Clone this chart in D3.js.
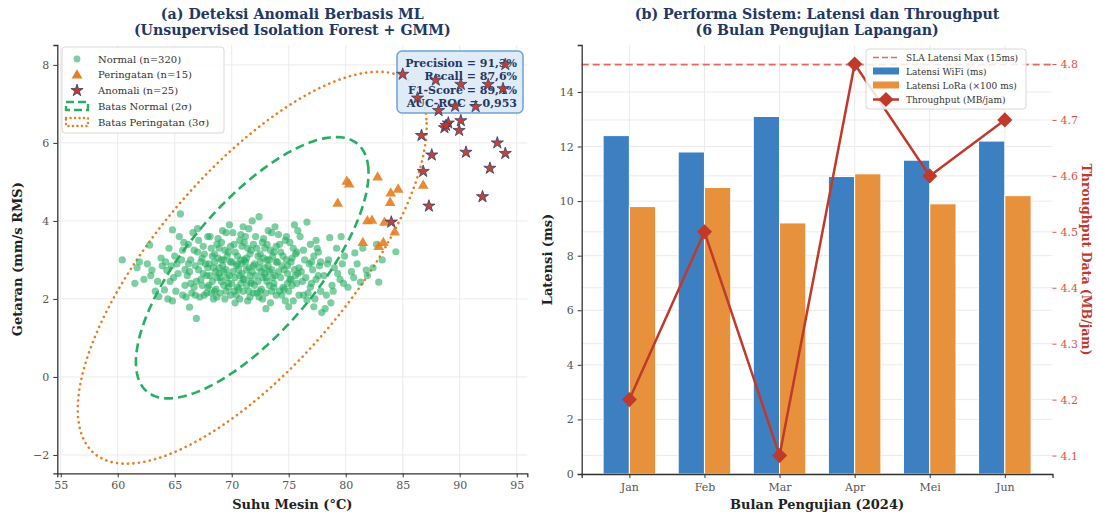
<!DOCTYPE html>
<html>
<head>
<meta charset="utf-8">
<script src="https://cdn.jsdelivr.net/npm/d3@7"></script>
<style>
  body { margin: 0; background: #fff; }
  svg { font-family: "DejaVu Serif", serif; }
</style>
</head>
<body>
<svg id="fig" width="1096" height="515"></svg>
<script>
// ---------- panel (a) data ----------
var normalPts = [
  [60.4,3.0],[61.7,2.8],[61.5,2.4],[61.9,2.95],
  [62.3,2.5],[62.8,3.38],[63.0,2.74],[63.6,2.06],[62.6,2.9],[63.3,2.2],[63.8,3.05],[62.9,2.6],[63.5,2.45],[63.9,2.85],
  [64.1,2.23],[64.3,2.74],[64.8,3.77],[65.5,4.18],[64.5,3.3],[65.2,2.9],[64.9,2.55],[65.7,2.1],[65.0,3.1],[64.4,2.0],
  [65.8,3.45],[65.3,2.65],[64.7,2.85],[65.9,2.35],[65.6,3.0],[64.2,2.95],[65.1,2.2],[65.4,3.6],[64.6,2.45],[65.9,2.75],[65.7,3.25],[64.8,1.95],
  [66.3,1.79],[66.9,1.5],[66.1,2.6],[66.4,3.0],[66.7,2.3],[66.2,3.4],[66.8,2.85],[67.0,3.2],[67.3,2.5],[67.6,2.1],
  [67.9,3.6],[66.5,2.15],[67.1,2.75],[67.4,3.05],[67.7,2.9],[66.6,3.7],[67.2,2.05],[67.5,3.35],[67.8,2.6],[66.9,2.45],
  [67.0,3.8],[67.9,2.3],[66.3,2.7],[67.6,3.15],[66.0,2.05],[67.3,2.95],[67.8,2.15],[66.7,3.25],[67.5,2.65],[66.4,2.4],
  [67.1,3.5],[67.9,2.8],[66.8,2.1],[67.4,2.35],[66.2,2.9],
  [68.1,2.6],[68.3,3.1],[68.5,2.2],[68.7,3.4],[68.9,2.8],[69.1,2.45],[69.3,3.0],[69.5,3.7],[69.7,2.3],[69.9,2.95],
  [68.2,3.3],[68.4,2.0],[68.6,2.7],[68.8,3.55],[69.0,2.15],[69.2,2.85],[69.4,3.25],[69.6,2.55],[69.8,3.9],[68.0,2.9],
  [68.3,2.45],[68.5,3.15],[68.7,2.05],[68.9,2.65],[69.1,3.45],[69.3,2.35],[69.5,2.75],[69.7,3.2],[69.9,2.1],[68.1,3.6],
  [68.4,2.8],[68.6,2.25],[68.8,3.05],[69.0,2.55],[69.2,3.75],[69.4,2.0],[69.6,3.1],[69.8,2.6],[68.2,2.15],[68.5,2.95],
  [68.9,3.3],[69.3,2.7],[69.7,2.4],[68.0,2.35],[68.7,2.55],[69.1,3.0],[69.5,2.2],[69.9,3.35],
  [70.1,2.7],[70.3,3.2],[70.5,2.3],[70.7,3.5],[70.9,2.9],[71.1,2.5],[71.3,3.05],[71.5,3.8],[71.7,2.4],[71.9,2.85],
  [70.2,3.4],[70.4,2.1],[70.6,2.75],[70.8,3.65],[71.0,2.2],[71.2,2.95],[71.4,3.3],[71.6,2.6],[71.8,4.0],[70.0,2.95],
  [70.3,2.55],[70.5,3.1],[70.7,2.0],[70.9,2.65],[71.1,3.45],[71.3,2.35],[71.5,2.8],[71.7,3.25],[71.9,2.15],[70.1,3.7],
  [70.4,2.85],[70.6,2.25],[70.8,3.0],[71.0,2.5],[71.2,3.6],[71.4,1.95],[71.6,3.15],[71.8,2.7],[70.2,2.2],[70.5,2.9],
  [70.9,3.35],[71.3,2.75],[71.7,2.45],[70.0,2.4],[70.7,2.6],[71.1,3.0],[71.5,2.2],[71.9,3.4],[70.3,1.9],[71.0,3.85],
  [71.6,2.05],[70.8,2.4],
  [72.1,2.6],[72.4,4.11],[72.3,3.1],[72.5,2.2],[72.7,3.45],[72.9,2.8],[73.1,2.45],[73.3,3.0],[73.5,3.7],[73.7,2.3],
  [73.9,2.95],[72.2,3.3],[72.4,2.05],[72.6,2.7],[72.8,3.55],[73.0,2.15],[73.2,2.85],[73.4,3.25],[73.6,2.55],[73.8,3.85],
  [72.0,2.9],[72.3,2.45],[72.5,3.15],[72.7,2.0],[72.9,2.65],[73.1,3.4],[73.3,2.35],[73.5,2.75],[73.7,3.2],[73.9,2.1],
  [72.1,3.6],[72.4,2.8],[72.6,2.25],[72.8,3.05],[73.0,2.55],[73.2,3.75],[73.4,1.9],[73.6,3.1],[73.8,2.6],[72.2,2.15],
  [72.5,2.95],[72.9,3.3],[73.3,2.7],[73.7,2.4],[72.0,2.35],[72.7,2.55],[73.1,3.0],[73.5,2.2],[73.9,3.35],[73.0,1.75],
  [74.1,2.7],[74.3,3.2],[74.5,2.3],[74.7,3.5],[74.9,2.85],[75.1,2.5],[75.3,3.05],[75.5,3.9],[75.7,2.4],[75.9,2.8],
  [74.2,3.4],[74.4,2.1],[74.6,2.75],[74.8,3.6],[75.0,2.2],[75.2,2.95],[75.4,3.3],[75.6,2.6],[75.8,3.75],[74.0,2.95],
  [74.3,2.55],[74.5,3.1],[74.7,1.95],[74.9,2.65],[75.1,3.45],[75.3,2.35],[75.5,2.75],[75.7,3.2],[75.9,2.1],[74.1,3.65],
  [74.4,2.85],[74.6,2.25],[74.8,3.0],[75.0,1.8],[75.2,2.5],[75.4,1.95],[75.6,3.15],[75.8,2.65],[74.2,2.2],[74.9,2.4],
  [76.1,2.7],[76.3,3.25],[76.6,3.97],[76.6,1.97],[76.8,2.9],[77.0,2.4],[77.2,3.1],[77.4,3.5],[77.6,2.6],[77.8,2.2],
  [76.2,2.45],[76.4,3.0],[76.7,2.15],[76.9,3.4],[77.1,2.75],[77.3,2.0],[77.5,3.3],[77.7,2.85],[77.9,1.65],[76.0,3.6],
  [76.5,2.55],[76.9,2.3],[77.2,1.8],[77.6,3.2],[77.0,2.95],[76.3,2.1],[77.4,2.5],[77.8,2.95],
  [78.1,2.6],[78.6,3.57],[78.3,2.1],[78.5,3.0],[78.8,2.35],[79.0,2.8],[79.2,3.3],[79.5,2.5],[79.7,2.9],[79.9,3.1],
  [78.2,1.75],[78.9,2.2],[79.3,2.65],[79.6,3.6],[78.4,2.9],[79.8,2.4],[78.7,1.9],
  [80.5,2.7],[80.8,3.18],[81.3,2.43],[81.8,2.74],[80.2,2.3],[81.0,2.9],[81.5,3.3],[80.7,2.55],[81.9,2.6],
  [82.9,2.43],[84.4,3.21],[82.4,2.8],[83.2,3.0],[82.7,3.4]
];
var warningPts = [
  [80.1,5.03],[80.3,4.96],[82.8,5.14],[79.3,4.47],[83.95,4.73],[84.6,4.83],[83.9,4.49],[81.9,4.02],
  [82.3,4.03],[83.4,3.98],[84.3,3.73],[81.5,3.46],[82.9,3.36],[83.3,3.46],[86.8,4.93]
];
var anomalyPts = [
  [94.0,8.01],[85.0,7.76],[87.9,7.61],[90.1,7.5],[92.5,7.5],[93.8,7.39],[86.3,7.15],[88.15,6.83],
  [89.6,6.94],[91.4,6.93],[90.1,6.57],[89.0,6.51],[88.66,6.39],[88.8,6.45],[89.95,6.32],[86.65,6.19],
  [93.3,6.0],[94.0,5.73],[87.55,5.69],[90.55,5.76],[92.65,5.35],[86.8,5.27],[92.0,4.62],[87.3,4.38],[84.0,3.97]
];
var ellipseCenter = [71.8, 2.8];
var ellipseHalfAxes2s = [10.5, 2.25];   // semi axes at 2 sigma (data units)
var ellipseAngleDeg = 14;
var metricLines = ["Precision = 91,3%", "Recall = 87,6%", "F1-Score = 89,4%", "AUC-ROC = 0,953"];
var legendA = ["Normal (n=320)", "Peringatan (n=15)", "Anomali (n=25)", "Batas Normal (2σ)", "Batas Peringatan (3σ)"];
var xTicksA = [55, 60, 65, 70, 75, 80, 85, 90, 95];
var yTicksA = [-2, 0, 2, 4, 6, 8];

// ---------- panel (b) data ----------
var months = ["Jan", "Feb", "Mar", "Apr", "Mei", "Jun"];
var latWifi = [12.4, 11.8, 13.1, 10.9, 11.5, 12.2];
var latLora = [9.8, 10.5, 9.2, 11.0, 9.9, 10.2];
var throughput = [4.2, 4.5, 4.1, 4.8, 4.6, 4.7];
var slaMax = 15;
var yTicksB = [0, 2, 4, 6, 8, 10, 12, 14];
var yTicksB2 = [4.1, 4.2, 4.3, 4.4, 4.5, 4.6, 4.7, 4.8];
var legendB = ["SLA Latensi Max (15ms)", "Latensi WiFi (ms)", "Latensi LoRa (×100 ms)", "Throughput (MB/jam)"];

var C = {
  title: "#1f3864", axis: "#333", grid: "#ebebeb", tick: "#444",
  green: "#27ae60", orange: "#e67e22", red: "#c0392b", starEdge: "#34406b",
  blue: "#3d80c2", lora: "#e8913c", sla: "#e06a60"
};

var svg = d3.select("#fig");

function grid(g, xs, ys, x, y) {
  g.selectAll(".gx").data(xs).enter().append("line")
    .attr("x1", function(d) { return x(d); }).attr("x2", function(d) { return x(d); })
    .attr("y1", y.range()[0]).attr("y2", y.range()[1])
    .attr("stroke", C.grid).attr("stroke-width", 1);
  g.selectAll(".gy").data(ys).enter().append("line")
    .attr("y1", function(d) { return y(d); }).attr("y2", function(d) { return y(d); })
    .attr("x1", x.range()[0]).attr("x2", x.range()[1])
    .attr("stroke", C.grid).attr("stroke-width", 1);
}

function styleAxis(g, color, fs) {
  g.select(".domain").attr("stroke", color).attr("stroke-width", 1.3);
  g.selectAll(".tick line").attr("stroke", color).attr("stroke-width", 1);
  g.selectAll(".tick text").attr("fill", color).attr("font-size", fs || 11)
    .attr("font-family", "DejaVu Serif, serif");
}

// =================== Panel (a) ===================
var xA = d3.scaleLinear().domain([54.7, 95.93]).range([57.3, 527.3]);
var yA = d3.scaleLinear().domain([-2.47, 8.51]).range([473.3, 45]);
var pa = svg.append("g");

grid(pa, xTicksA, yTicksA, xA, yA);

// ellipses (2 sigma / 3 sigma boundaries)
function ellipsePath(k) {
  var a = ellipseHalfAxes2s[0] * k, b = ellipseHalfAxes2s[1] * k,
      th = ellipseAngleDeg * Math.PI / 180, pts = [];
  for (var i = 0; i <= 240; i++) {
    var t = i / 240 * 2 * Math.PI;
    pts.push([ellipseCenter[0] + a * Math.cos(th) * Math.cos(t) - b * Math.sin(th) * Math.sin(t),
              ellipseCenter[1] + a * Math.sin(th) * Math.cos(t) + b * Math.cos(th) * Math.sin(t)]);
  }
  return d3.line().x(function(d) { return xA(d[0]); }).y(function(d) { return yA(d[1]); })(pts);
}
pa.append("path").attr("d", ellipsePath(1.5)).attr("fill", "none")
  .attr("stroke", C.orange).attr("stroke-width", 2.6).attr("stroke-linecap", "round")
  .attr("stroke-dasharray", "0.1 5.4");
pa.append("path").attr("d", ellipsePath(1)).attr("fill", "none")
  .attr("stroke", C.green).attr("stroke-width", 2.6).attr("stroke-dasharray", "9 5");

pa.selectAll(".n").data(normalPts).enter().append("circle")
  .attr("cx", function(d) { return xA(d[0]); }).attr("cy", function(d) { return yA(d[1]); })
  .attr("r", 3.6).attr("fill", C.green).attr("fill-opacity", 0.6);

var tri = d3.symbol().type(d3.symbolTriangle).size(50);
pa.selectAll(".w").data(warningPts).enter().append("path")
  .attr("d", tri).attr("transform", function(d) { return "translate(" + xA(d[0]) + "," + (yA(d[1]) + 1) + ")"; })
  .attr("fill", C.orange).attr("fill-opacity", 0.9);

// metrics box
var bx = pa.append("g");
bx.append("rect").attr("x", 397).attr("y", 51).attr("width", 126).attr("height", 62)
  .attr("rx", 5).attr("fill", "#dbe9f6").attr("fill-opacity", 0.9)
  .attr("stroke", "#6fa3d6").attr("stroke-width", 1.5);
bx.selectAll("text").data(metricLines).enter().append("text")
  .attr("x", 517).attr("y", function(d, i) { return 67 + i * 13.4; })
  .attr("text-anchor", "end").attr("font-size", 11).attr("font-weight", "bold")
  .attr("fill", C.title).text(function(d) { return d; });

var star = d3.symbol().type(d3.symbolStar).size(46);
pa.selectAll(".s").data(anomalyPts).enter().append("path")
  .attr("d", star).attr("transform", function(d) { return "translate(" + xA(d[0]) + "," + yA(d[1]) + ")"; })
  .attr("fill", C.red).attr("fill-opacity", 0.95).attr("stroke", C.starEdge).attr("stroke-width", 0.8);

var axA = pa.append("g").attr("transform", "translate(0,473.3)")
  .call(d3.axisBottom(xA).tickValues(xTicksA).tickSize(4).tickPadding(4).tickFormat(d3.format("d")));
styleAxis(axA, C.axis);
axA.selectAll(".tick text").attr("fill", "#555");
var ayA = pa.append("g").attr("transform", "translate(57.3,0)")
  .call(d3.axisLeft(yA).tickValues(yTicksA).tickSize(4).tickPadding(4).tickFormat(d3.format("d")));
styleAxis(ayA, C.axis);
ayA.selectAll(".tick text").attr("fill", "#555");

// legend (a)
var lg = pa.append("g");
lg.append("rect").attr("x", 62).attr("y", 47).attr("width", 162).attr("height", 86).attr("rx", 3)
  .attr("fill", "#fff").attr("fill-opacity", 0.85).attr("stroke", "#d8d8d8");
lg.selectAll("text").data(legendA).enter().append("text")
  .attr("x", 98).attr("y", function(d, i) { return 62.5 + i * 15.8; })
  .attr("font-size", 10).attr("fill", "#333").text(function(d) { return d; });
lg.append("circle").attr("cx", 77).attr("cy", 59).attr("r", 3.4).attr("fill", C.green).attr("fill-opacity", 0.6);
lg.append("path").attr("d", tri).attr("transform", "translate(77,75.5)").attr("fill", C.orange);
lg.append("path").attr("d", star).attr("transform", "translate(77,90.5)")
  .attr("fill", C.red).attr("stroke", C.starEdge).attr("stroke-width", 0.8);
lg.append("rect").attr("x", 66).attr("y", 102).attr("width", 22).attr("height", 8)
  .attr("fill", "none").attr("stroke", C.green).attr("stroke-width", 2.4).attr("stroke-dasharray", "8 4");
lg.append("rect").attr("x", 66).attr("y", 118).attr("width", 22).attr("height", 8)
  .attr("fill", "none").attr("stroke", C.orange).attr("stroke-width", 2.4)
  .attr("stroke-linecap", "round").attr("stroke-dasharray", "0.1 4.4");

// titles & labels (a)
var midA = (57.3 + 527.3) / 2;
pa.append("text").attr("x", midA).attr("y", 19).attr("text-anchor", "middle").attr("font-size", 14.2)
  .attr("font-weight", "bold").attr("fill", C.title).text("(a) Deteksi Anomali Berbasis ML");
pa.append("text").attr("x", midA).attr("y", 35).attr("text-anchor", "middle").attr("font-size", 14.2)
  .attr("font-weight", "bold").attr("fill", C.title).text("(Unsupervised Isolation Forest + GMM)");
pa.append("text").attr("x", midA).attr("y", 509).attr("text-anchor", "middle").attr("font-size", 13)
  .attr("font-weight", "bold").attr("fill", "#222").text("Suhu Mesin (°C)");
pa.append("text").attr("transform", "translate(22," + ((45 + 473.3) / 2) + ") rotate(-90)")
  .attr("text-anchor", "middle").attr("font-size", 13)
  .attr("font-weight", "bold").attr("fill", "#222").text("Getaran (mm/s RMS)");

// =================== Panel (b) ===================
var xB = d3.scaleLinear().domain([-0.635, 5.635]).range([581.7, 1052.5]);
var yB = d3.scaleLinear().domain([0, 15.72]).range([474, 45]);
var yB2 = d3.scaleLinear().domain([4.067, 4.834]).range([474, 45]);
var bw = 0.35;
var pb = svg.append("g");

grid(pb, d3.range(months.length), yTicksB, xB, yB);
pb.selectAll(".g2").data(yTicksB2).enter().append("line")
  .attr("y1", function(d) { return yB2(d); }).attr("y2", function(d) { return yB2(d); })
  .attr("x1", xB.range()[0]).attr("x2", xB.range()[1])
  .attr("stroke", C.grid).attr("stroke-width", 1);

pb.selectAll(".bw").data(latWifi).enter().append("rect")
  .attr("x", function(d, i) { return xB(i - bw); }).attr("width", xB(bw) - xB(0))
  .attr("y", function(d) { return yB(d); }).attr("height", function(d) { return yB(0) - yB(d); })
  .attr("fill", C.blue).attr("stroke", "#fff").attr("stroke-width", 1);
pb.selectAll(".bl").data(latLora).enter().append("rect")
  .attr("x", function(d, i) { return xB(i); }).attr("width", xB(bw) - xB(0))
  .attr("y", function(d) { return yB(d); }).attr("height", function(d) { return yB(0) - yB(d); })
  .attr("fill", C.lora).attr("stroke", "#fff").attr("stroke-width", 1);

pb.append("line").attr("x1", xB.range()[0]).attr("x2", xB.range()[1])
  .attr("y1", yB(slaMax)).attr("y2", yB(slaMax))
  .attr("stroke", C.sla).attr("stroke-width", 1.6).attr("stroke-dasharray", "7 4");

pb.append("path").datum(throughput)
  .attr("d", d3.line().x(function(d, i) { return xB(i); }).y(function(d) { return yB2(d); }))
  .attr("fill", "none").attr("stroke", C.red).attr("stroke-width", 2.5);
var dia = d3.symbol().type(d3.symbolSquare).size(115);
pb.selectAll(".dm").data(throughput).enter().append("path").attr("d", dia)
  .attr("transform", function(d, i) { return "translate(" + xB(i) + "," + yB2(d) + ") rotate(45)"; })
  .attr("fill", C.red);

var axB = pb.append("g").attr("transform", "translate(0,474)")
  .call(d3.axisBottom(xB).tickValues(d3.range(months.length)).tickSize(4).tickPadding(5)
    .tickFormat(function(i) { return months[i]; }));
styleAxis(axB, C.axis);
axB.selectAll(".tick text").attr("fill", "#555");
var ayB = pb.append("g").attr("transform", "translate(581.7,0)")
  .call(d3.axisLeft(yB).tickValues(yTicksB).tickSize(4).tickPadding(4).tickFormat(d3.format("d")));
styleAxis(ayB, C.axis);
ayB.selectAll(".tick text").attr("fill", "#555");
var ayB2 = pb.append("g").attr("transform", "translate(1052.5,0)")
  .call(d3.axisRight(yB2).tickValues(yTicksB2).tickSize(4).tickPadding(4).tickFormat(d3.format(".1f")));
styleAxis(ayB2, "#d9534f");
ayB2.select(".domain").remove();

// legend (b)
var lb = pb.append("g");
lb.append("rect").attr("x", 866).attr("y", 49).attr("width", 160).attr("height", 60).attr("rx", 3)
  .attr("fill", "#fff").attr("fill-opacity", 0.85).attr("stroke", "#d8d8d8");
lb.selectAll("text").data(legendB).enter().append("text")
  .attr("x", 906).attr("y", function(d, i) { return 60.5 + i * 14; })
  .attr("font-size", 9).attr("fill", "#333").text(function(d) { return d; });
lb.append("line").attr("x1", 873).attr("x2", 899).attr("y1", 57.5).attr("y2", 57.5)
  .attr("stroke", C.sla).attr("stroke-width", 1.6).attr("stroke-dasharray", "6 3");
lb.append("rect").attr("x", 873).attr("y", 67.5).attr("width", 26).attr("height", 7).attr("fill", C.blue);
lb.append("rect").attr("x", 873).attr("y", 81.5).attr("width", 26).attr("height", 7).attr("fill", C.lora);
lb.append("line").attr("x1", 873).attr("x2", 899).attr("y1", 99.5).attr("y2", 99.5)
  .attr("stroke", C.red).attr("stroke-width", 2.5);
lb.append("path").attr("d", dia).attr("transform", "translate(886,99.5) rotate(45)").attr("fill", C.red);

// titles & labels (b)
var midB = (581.7 + 1052.5) / 2;
pb.append("text").attr("x", midB).attr("y", 19).attr("text-anchor", "middle").attr("font-size", 14.2)
  .attr("font-weight", "bold").attr("fill", C.title).text("(b) Performa Sistem: Latensi dan Throughput");
pb.append("text").attr("x", midB).attr("y", 35).attr("text-anchor", "middle").attr("font-size", 14.2)
  .attr("font-weight", "bold").attr("fill", C.title).text("(6 Bulan Pengujian Lapangan)");
pb.append("text").attr("x", midB).attr("y", 509).attr("text-anchor", "middle").attr("font-size", 13)
  .attr("font-weight", "bold").attr("fill", "#222").text("Bulan Pengujian (2024)");
pb.append("text").attr("transform", "translate(552," + ((45 + 474) / 2) + ") rotate(-90)")
  .attr("text-anchor", "middle").attr("font-size", 13)
  .attr("font-weight", "bold").attr("fill", "#222").text("Latensi (ms)");
pb.append("text").attr("transform", "translate(1082," + ((45 + 474) / 2) + ") rotate(90)")
  .attr("text-anchor", "middle").attr("font-size", 12.5)
  .attr("font-weight", "bold").attr("fill", C.red).text("Throughput Data (MB/jam)");
</script>
</body>
</html>
